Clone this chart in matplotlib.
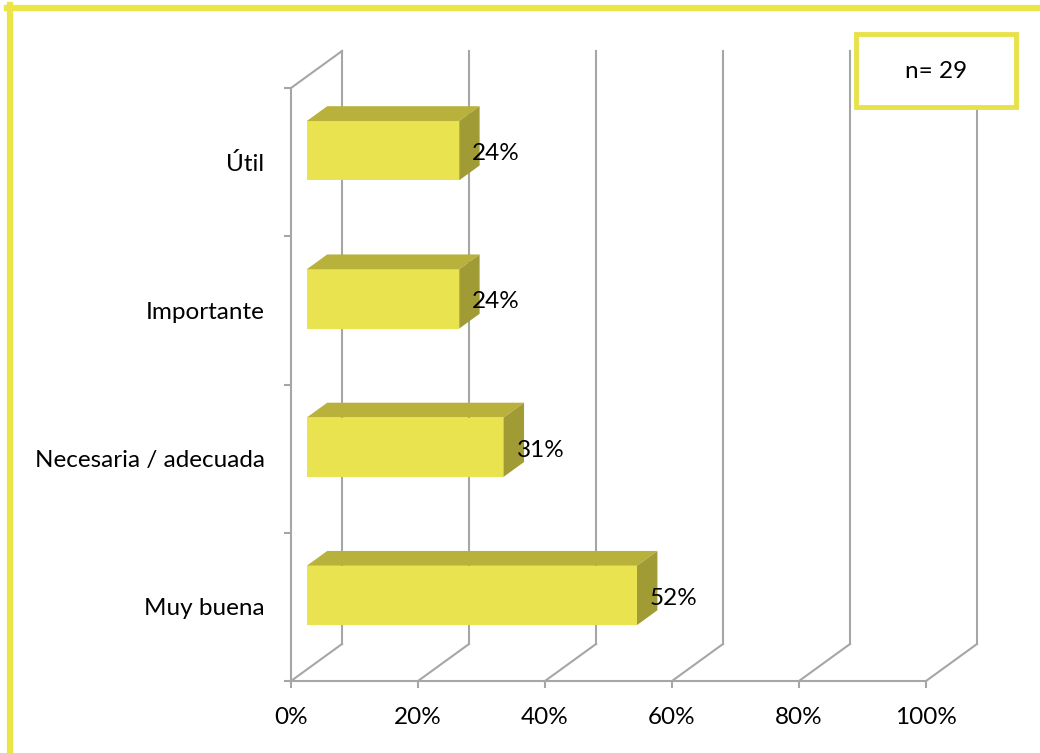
import matplotlib.pyplot as plt
from matplotlib.patches import Polygon, Rectangle
from matplotlib.lines import Line2D

plt.rcParams['font.family'] = ['Lato', 'DejaVu Sans']

categories = ['Muy buena', 'Necesaria / adecuada', 'Importante', 'Útil']
values = [52, 31, 24, 24]
xticks = [0, 20, 40, 60, 80, 100]
n_label = 'n= 29'

W, H = 1040, 753
fig = plt.figure(figsize=(W / 100, H / 100), dpi=100)
# front plane of the 3d box, in pixels
x0, x1, yb, yt = 291, 926, 681, 88
ax = fig.add_axes([x0 / W, 1 - yb / H, (x1 - x0) / W, (yb - yt) / H])
ax.set_xlim(0, 100)
ax.set_ylim(0, len(categories))

pxx = (x1 - x0) / 100.0
pxy = (yb - yt) / len(categories)
DX = 51 / pxx      # depth offset in data units
DY = 37 / pxy

fs = 17.5
grid_c = '#a6a6a6'
# back wall gridlines + floor diagonals
for v in xticks:
    ax.plot([v, v + DX], [0, DY], color=grid_c, lw=1.5, clip_on=False, zorder=1)
    ax.plot([v + DX, v + DX], [DY, len(categories) + DY], color=grid_c, lw=1.5,
            clip_on=False, zorder=1)
# top of left wall
ax.plot([0, DX], [len(categories), len(categories) + DY], color=grid_c, lw=1.5,
        clip_on=False, zorder=1)

front_c = '#e8e34f'
top_c = '#b8b13c'
side_c = '#a19b35'
f0, f1 = 0.31, 0.71
bh = 0.40
for i, (cat, v) in enumerate(zip(categories, values)):
    yc = i + 0.5
    ox, oy = f0 * DX, f0 * DY
    bx, by = f1 * DX, f1 * DY
    ylo, yhi = yc - bh / 2, yc + bh / 2
    front = Polygon([(ox, ylo + oy), (v + ox, ylo + oy), (v + ox, yhi + oy), (ox, yhi + oy)],
                    closed=True, fc=front_c, ec='none', zorder=3, clip_on=False)
    top = Polygon([(ox, yhi + oy), (v + ox, yhi + oy), (v + bx, yhi + by), (bx, yhi + by)],
                  closed=True, fc=top_c, ec='none', zorder=3, clip_on=False)
    side = Polygon([(v + ox, ylo + oy), (v + bx, ylo + by), (v + bx, yhi + by), (v + ox, yhi + oy)],
                   closed=True, fc=side_c, ec='none', zorder=3, clip_on=False)
    for p in (front, top, side):
        ax.add_patch(p)
    ax.text(v + ox + 13 / pxx, yc + oy - 3 / pxy, f'{v}%', fontsize=fs, va='center', ha='left',
            zorder=4)

for s in ['top', 'right']:
    ax.spines[s].set_visible(False)
for s in ['left', 'bottom']:
    ax.spines[s].set_color(grid_c)
    ax.spines[s].set_linewidth(1.5)
ax.set_facecolor('none')

ax.set_xticks(xticks)
ax.set_xticklabels([f'{t}%' for t in xticks], fontsize=fs)
ax.tick_params(axis='x', length=5, width=1.5, color=grid_c, pad=14)
ax.set_yticks(range(len(categories) + 1))
ax.set_yticklabels([])
ax.tick_params(axis='y', which='major', length=5, width=1.5, color=grid_c)
ax.set_yticks([i + 0.5 for i in range(len(categories))], minor=True)
ax.set_yticklabels(categories, minor=True, fontsize=fs)
ax.tick_params(axis='y', which='minor', length=0, pad=19)

# n box
fig.add_artist(Rectangle((856 / W, 1 - 107 / H), 160 / W, 73 / H, transform=fig.transFigure,
                         fc='white', ec='#e8e14a', lw=3.5, zorder=5))
fig.text(936 / W, 1 - 72 / H, n_label, fontsize=fs, ha='center', va='center', zorder=6)

# outer yellow frame (top and left)
yel = '#ece548'
fig.add_artist(Line2D([10 / W, 10 / W], [0, 1 - 5 / H], transform=fig.transFigure, color=yel, lw=4.5))
fig.add_artist(Line2D([7 / W, 1], [1 - 8 / H, 1 - 8 / H], transform=fig.transFigure, color=yel, lw=4.5))

fig.savefig('out.png', dpi=100)
